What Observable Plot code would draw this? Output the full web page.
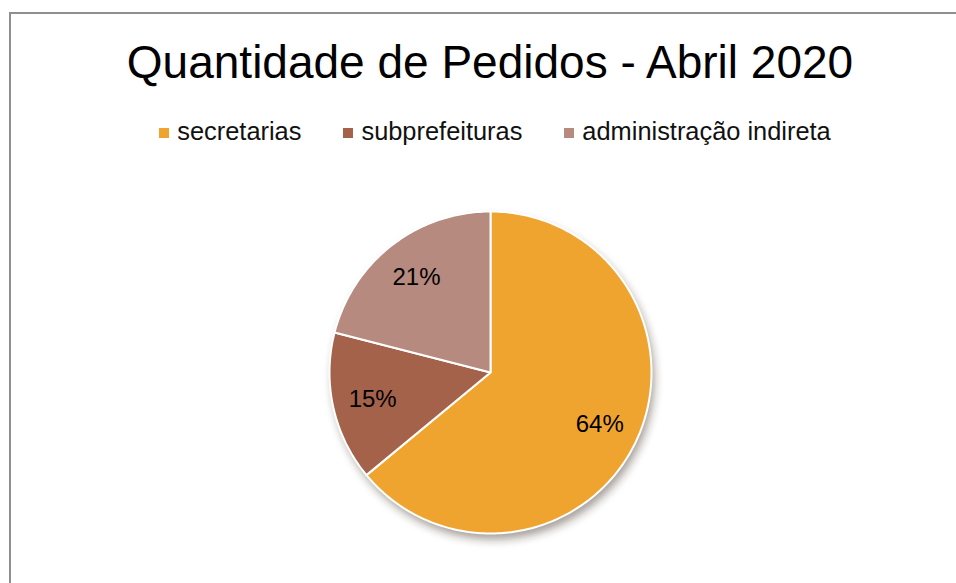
<!DOCTYPE html>
<html>
<head>
<meta charset="utf-8">
<script src="https://cdn.jsdelivr.net/npm/d3@7"></script>
<script src="https://cdn.jsdelivr.net/npm/@observablehq/plot@0.6"></script>
<style>
  html, body { margin: 0; padding: 0; background: #fff; }
  body { width: 956px; height: 583px; overflow: hidden; position: relative; font-family: "Liberation Sans", Arial, sans-serif; }
  #frame { position: absolute; left: 9px; top: 12px; width: 960px; height: 590px; border-top: 2px solid #8f8f8f; border-left: 2px solid #8f8f8f; }
  #title { position: absolute; left: 0; width: 980px; top: 36px; text-align: center; font-size: 46px; color: #000; line-height: 52px; white-space: nowrap; }
  #legend { position: absolute; left: 0; width: 990px; top: 115px; text-align: center; font-size: 25.4px; color: #111; line-height: 32px; white-space: nowrap; }
  #legend .item { display: inline-block; margin: 0 21px; }
  #legend .sw { display: inline-block; width: 10px; height: 10px; margin-right: 8px; vertical-align: 2px; }
  #chart { position: absolute; left: 0; top: 160px; }
</style>
</head>
<body>
<div id="frame"></div>
<div id="title"></div>
<div id="legend"></div>
<div id="chart"></div>
<script>
const title = "Quantidade de Pedidos - Abril 2020";
const categories = ["secretarias", "subprefeituras", "administração indireta"];
const values = [64, 15, 21];
const labels = ["64%", "15%", "21%"];
const colors = ["#F0A430", "#A5624B", "#B68A7E"];

document.getElementById("title").textContent = title;
const legend = document.getElementById("legend");
categories.forEach((c, i) => {
  const item = document.createElement("span");
  item.className = "item";
  const sw = document.createElement("span");
  sw.className = "sw";
  sw.style.background = colors[i];
  item.appendChild(sw);
  item.appendChild(document.createTextNode(c));
  legend.appendChild(item);
});

const arcs = d3.pie().sort(null).startAngle(0).endAngle(2 * Math.PI)(values);
const poly = [];
const lab = [];
arcs.forEach((a, i) => {
  poly.push({name: categories[i], x: 0, y: 0});
  const n = Math.max(2, Math.ceil((a.endAngle - a.startAngle) / (Math.PI / 180)));
  for (let k = 0; k <= n; k++) {
    const t = a.startAngle + (a.endAngle - a.startAngle) * k / n;
    poly.push({name: categories[i], x: Math.sin(t), y: Math.cos(t)});
  }
  const m = (a.startAngle + a.endAngle) / 2;
  lab.push({name: categories[i], label: labels[i], x: 0.75 * Math.sin(m), y: 0.75 * Math.cos(m)});
});

const W = 956, H = 423;
const plot = Plot.plot({
  width: W, height: H,
  marginLeft: 329, marginRight: 305, marginTop: 51, marginBottom: 50,
  x: {domain: [-1, 1], axis: null},
  y: {domain: [-1, 1], axis: null},
  color: {domain: categories, range: colors},
  style: {background: "transparent", overflow: "visible"},
  marks: [
    Plot.line(poly, {x: "x", y: "y", z: "name", fill: "#3a2a20", fillOpacity: 0.45, stroke: "none", curve: "linear-closed", dx: 3, dy: 6}),
    Plot.line(poly, {x: "x", y: "y", z: "name", fill: "name", stroke: "#fff", strokeWidth: 2, curve: "linear-closed"}),
    Plot.text(lab, {x: "x", y: "y", text: "label", fill: "#000", fontSize: 24, fontFamily: "Liberation Sans, Arial, sans-serif"})
  ]
});
document.getElementById("chart").appendChild(plot);

// soft drop shadow under the pie
const svg = d3.select(plot);
const defs = svg.insert("defs", ":first-child");
defs.append("filter").attr("id", "pieShadow").attr("x", "-20%").attr("y", "-20%").attr("width", "140%").attr("height", "140%")
  .append("feGaussianBlur").attr("stdDeviation", 4);
const groups = svg.selectAll("g[aria-label='line']").nodes();
if (groups.length) d3.select(groups[0]).attr("filter", "url(#pieShadow)");
</script>
</body>
</html>
